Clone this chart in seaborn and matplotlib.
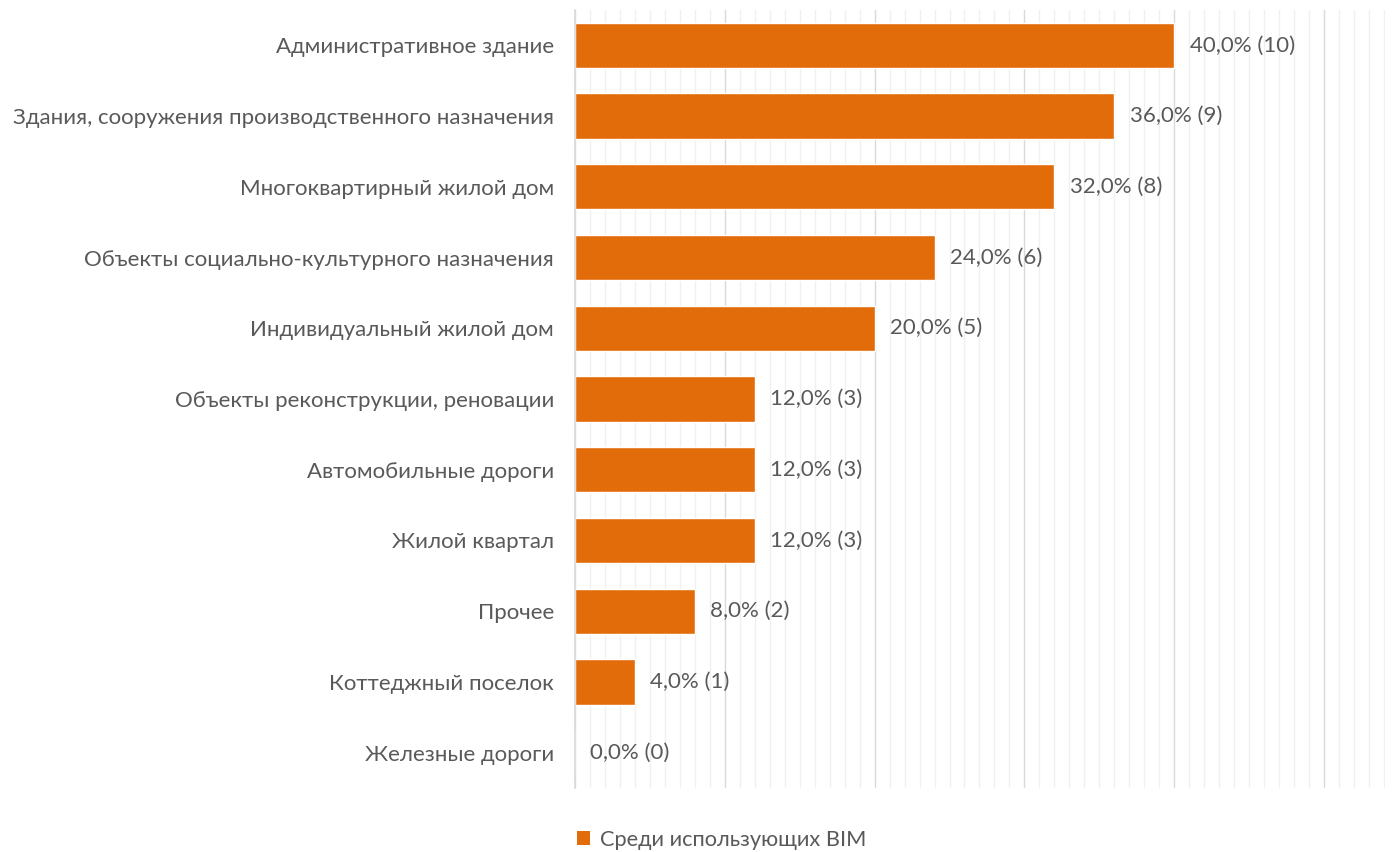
import matplotlib
matplotlib.use("Agg")
import matplotlib.pyplot as plt
from matplotlib.ticker import MultipleLocator
from matplotlib.patches import Patch
import seaborn as sns
import pandas as pd

categories = [
    "Административное здание",
    "Здания, сооружения производственного назначения",
    "Многоквартирный жилой дом",
    "Объекты социально-культурного назначения",
    "Индивидуальный жилой дом",
    "Объекты реконструкции, реновации",
    "Автомобильные дороги",
    "Жилой квартал",
    "Прочее",
    "Коттеджный поселок",
    "Железные дороги",
]
shares = [40.0, 36.0, 32.0, 24.0, 20.0, 12.0, 12.0, 12.0, 8.0, 4.0, 0.0]
counts = [10, 9, 8, 6, 5, 3, 3, 3, 2, 1, 0]
series_name = "Среди использующих BIM"

BAR_COLOR = "#E36C0A"
TEXT_COLOR = "#595959"

sns.set_theme(style="white")
plt.rcParams["font.family"] = ["Lato", "DejaVu Sans"]

df = pd.DataFrame({"category": categories, "share": shares, "count": counts})

fig = plt.figure(figsize=(13.94, 8.52), dpi=100)
ax = fig.add_axes([575 / 1394, 1 - 788 / 852, (1385 - 575) / 1394, (788 - 10) / 852])

sns.barplot(data=df, y="category", x="share", orient="h", color=BAR_COLOR,
            saturation=1, width=0.64, ax=ax)

# the gridline area ends on the 54% minor line
ax.set_xlim(0, 54.07)
ax.set_ylim(10.5, -0.5)
ax.xaxis.set_major_locator(MultipleLocator(10))
ax.xaxis.set_minor_locator(MultipleLocator(1))
ax.grid(which="major", axis="x", color="#d9d9d9", linewidth=1.0)
ax.grid(which="minor", axis="x", color="#f0f0f0", linewidth=1.0)
ax.set_axisbelow(True)
ax.tick_params(axis="x", which="both", length=0, labelbottom=False)
ax.tick_params(axis="y", length=0, pad=15, labelsize=16, labelcolor=TEXT_COLOR)
ax.set_xlabel("")
ax.set_ylabel("")
for side in ["top", "right", "bottom"]:
    ax.spines[side].set_visible(False)
ax.spines["left"].set_color("#d9d9d9")
ax.spines["left"].set_linewidth(1.2)

labels = [f"{s:.1f}".replace(".", ",") + f"% ({c})" for s, c in zip(shares, counts)]
ax.bar_label(ax.containers[0], labels=labels, padding=11, fontsize=16,
             color=TEXT_COLOR)

handle = Patch(facecolor=BAR_COLOR, edgecolor="none")
fig.legend([handle], [series_name], loc="center left",
           bbox_to_anchor=(557 / 1394, 1 - 840 / 852), frameon=False,
           fontsize=15.7, labelcolor=TEXT_COLOR, handlelength=0.6,
           handleheight=0.6, handletextpad=0.45)

fig.savefig("out.png", dpi=100)
